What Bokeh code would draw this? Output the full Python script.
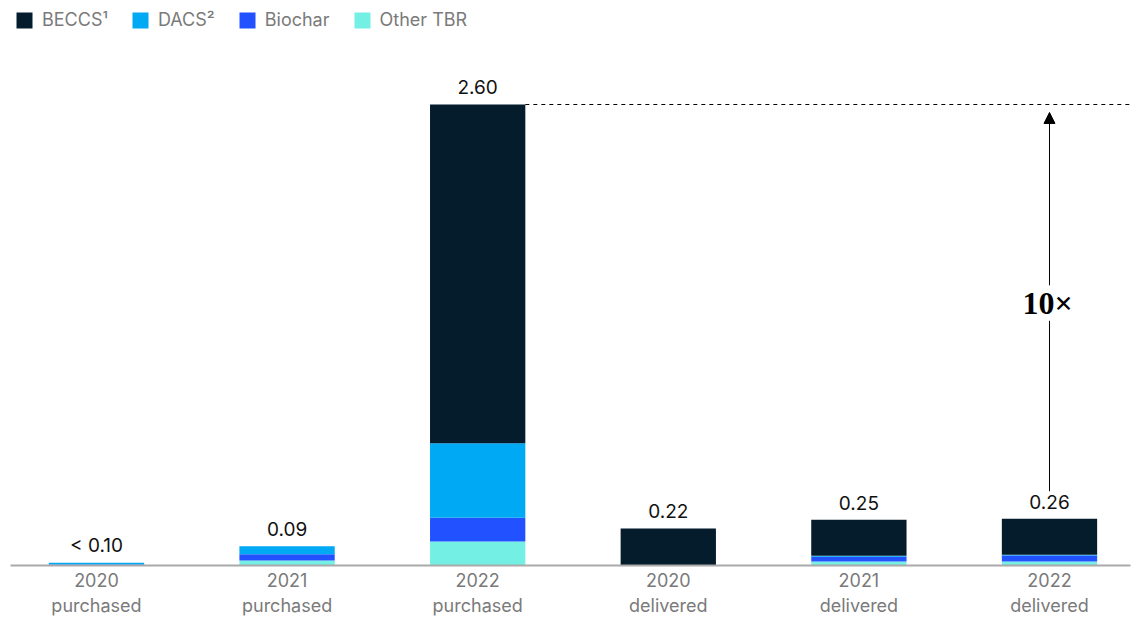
from bokeh.plotting import figure
from bokeh.models import (ColumnDataSource, Legend, LegendItem, FixedTicker, Range1d,
                          Arrow, NormalHead, Label)
from bokeh.core.properties import value
from bokeh.embed import file_html
from bokeh.resources import INLINE

categories = ["2020\npurchased", "2021\npurchased", "2022\npurchased",
              "2020\ndelivered", "2021\ndelivered", "2022\ndelivered"]
series_names = ["BECCS\u00b9", "DACS\u00b2", "Biochar", "Other TBR"]
beccs = [0.0, 0.0, 1.91, 0.209, 0.203, 0.203]
dacs = [0.010, 0.045, 0.42, 0.0, 0.005, 0.005]
biochar = [0.005, 0.035, 0.135, 0.0, 0.028, 0.034]
other_tbr = [0.0, 0.028, 0.135, 0.0, 0.022, 0.022]
value_labels = ["< 0.10", "0.09", "2.60", "0.22", "0.25", "0.26"]
multiplier_label = "10\u00d7"

colors = {"BECCS": "#051c2c", "DACS": "#00a9f4", "Biochar": "#2251ff", "Other TBR": "#74efe4"}
FONT = "Inter"

xs = [i + 0.5 for i in range(len(categories))]
totals = [a + b + c + d for a, b, c, d in zip(beccs, dacs, biochar, other_tbr)]

source = ColumnDataSource(dict(x=xs, other=other_tbr, biochar=biochar, dacs=dacs,
                               beccs=beccs, total=totals, lab=value_labels))

p = figure(width=1136, height=618, output_backend="svg", toolbar_location=None,
           x_range=Range1d(0.049, 5.925), y_range=Range1d(0, 3.1414),
           min_border_left=10, min_border_right=6, min_border_top=8, min_border_bottom=53)

renderers = p.vbar_stack(["other", "biochar", "dacs", "beccs"], x="x", width=0.5,
                         color=[colors["Other TBR"], colors["Biochar"], colors["DACS"], colors["BECCS"]],
                         line_width=0, source=source)
r_other, r_bio, r_dacs, r_beccs = renderers

# value labels above bars
p.text(x="x", y="total", text="lab", source=source, text_align="center",
       text_baseline="middle", y_offset=-17, text_font=value(FONT),
       text_font_size="19px", text_color="#111111")

# dashed reference line from top of the 2022 purchased bar
top = totals[2]
p.segment(x0=[xs[2] + 0.25], y0=[top], x1=[5.925], y1=[top], line_color="black",
          line_width=1, line_dash="4 4")

# arrow with multiplier label
ax = xs[5]
p.segment(x0=[ax], y0=[totals[5] + 0.155], x1=[ax], y1=[1.38],
          line_color="black", line_width=1)
p.add_layout(Arrow(x_start=ax, y_start=1.58, x_end=ax, y_end=top - 0.045,
                   line_color="black", line_width=1,
                   end=NormalHead(size=11, fill_color="black", line_color="black")))
p.add_layout(Label(x=ax - 0.01, y=1.48, text=multiplier_label, text_align="center",
                   text_baseline="middle", text_font="Liberation Serif",
                   text_font_style="bold", text_font_size="32px", text_color="black"))

# axes
p.yaxis.visible = False
p.xaxis.ticker = FixedTicker(ticks=xs)
p.xaxis.major_label_overrides = {x: c for x, c in zip(xs, categories)}
p.xaxis.major_tick_line_color = None
p.xaxis.minor_tick_line_color = None
p.xaxis.major_tick_out = 0
p.xaxis.major_tick_in = 0
p.xaxis.axis_line_color = "#aaaaaa"
p.xaxis.axis_line_width = 2
p.xaxis.major_label_text_font = FONT
p.xaxis.major_label_text_font_size = "18px"
p.xaxis.major_label_text_color = "#7a7a7a"
p.xaxis.major_label_standoff = 4
p.xgrid.visible = False
p.ygrid.visible = False
p.outline_line_color = None

legend = Legend(items=[LegendItem(label=series_names[0], renderers=[r_beccs]),
                       LegendItem(label=series_names[1], renderers=[r_dacs]),
                       LegendItem(label=series_names[2], renderers=[r_bio]),
                       LegendItem(label=series_names[3], renderers=[r_other])],
                orientation="horizontal", location=(4, 535), margin=0, padding=0,
                glyph_width=20, glyph_height=20, label_standoff=8, spacing=22,
                label_text_font=FONT, label_text_font_size="18px",
                label_text_color="#7a7a7a", border_line_color=None,
                background_fill_alpha=0, label_height=20)
p.add_layout(legend)

open("out.html", "w").write(file_html(p, INLINE))
